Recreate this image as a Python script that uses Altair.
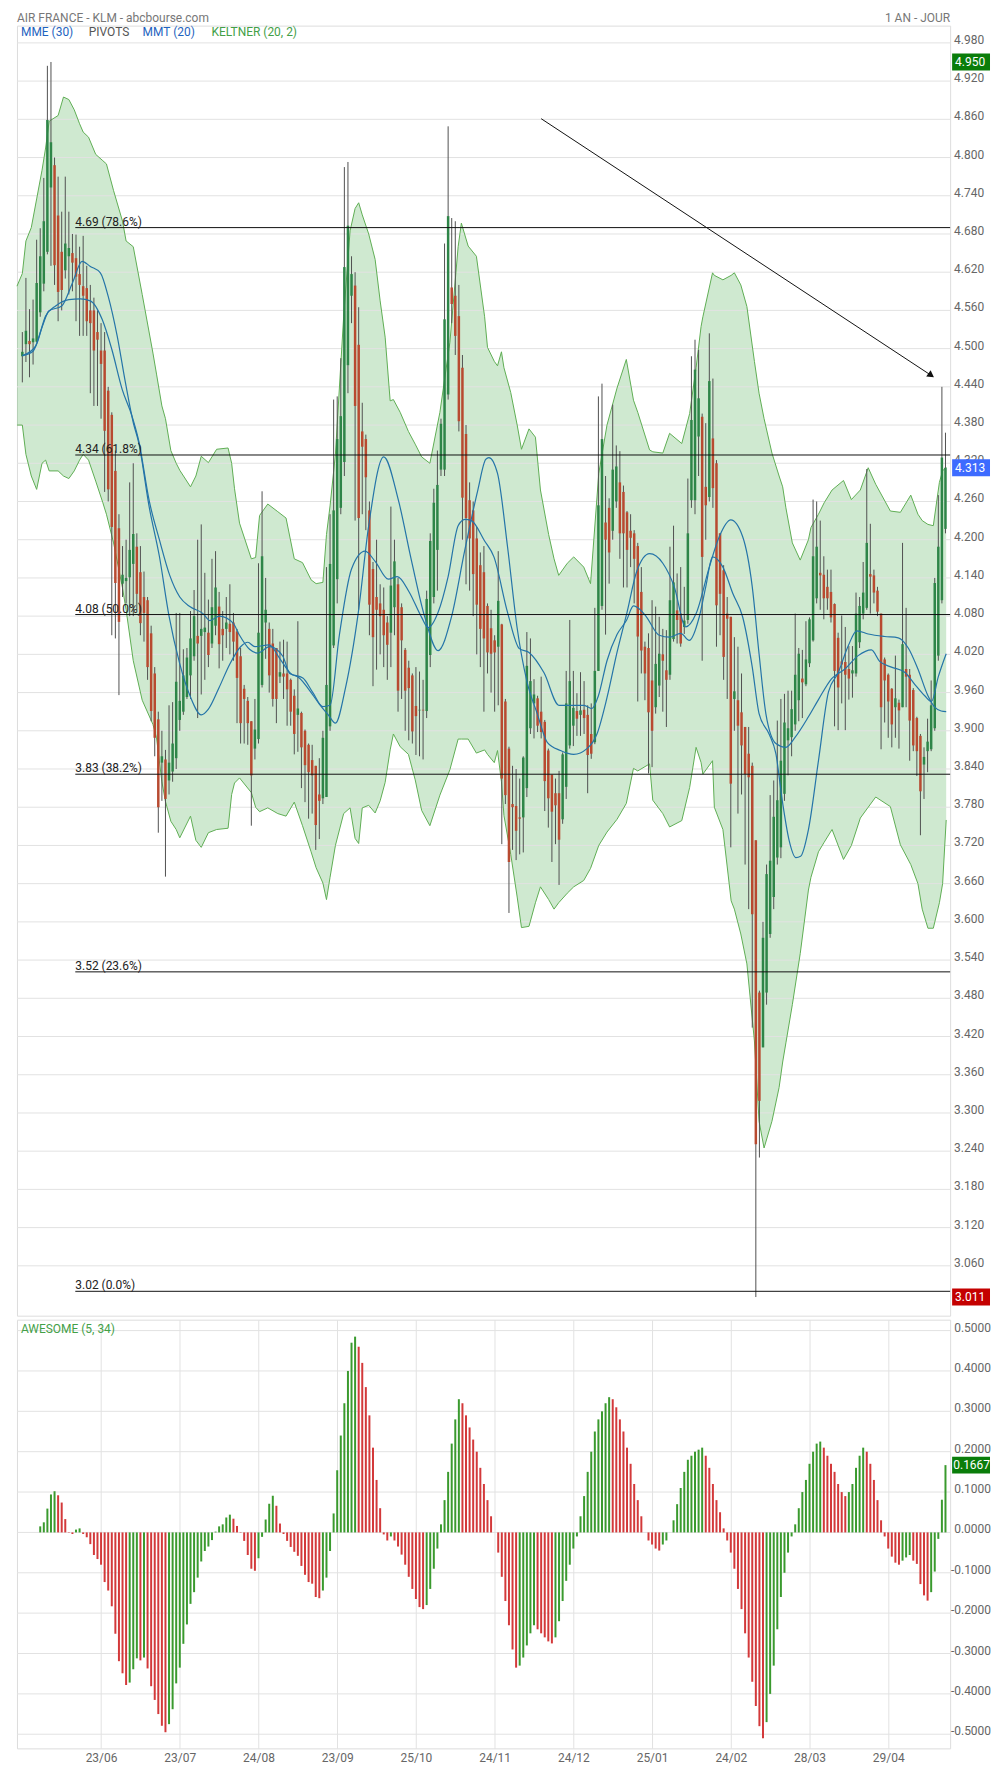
import altair as alt
import pandas as pd

# ---------------- data ----------------
OPEN = [4.488, 4.507, 4.512, 4.510, 4.511, 4.557, 4.602, 4.652, 4.753, 4.788,
        4.709, 4.652, 4.623, 4.645, 4.650, 4.642, 4.617, 4.598, 4.595, 4.560,
        4.560, 4.526, 4.497, 4.497, 4.434, 4.396, 4.308, 4.218, 4.131, 4.135,
        4.141, 4.162, 4.189, 4.149, 4.110, 4.105, 4.053, 3.990, 3.918, 3.850,
        3.855, 3.822, 3.836, 3.857, 3.917, 3.930, 3.953, 3.987, 4.017, 4.049,
        4.049, 4.055, 4.054, 4.037, 4.065, 4.095, 4.060, 4.060, 4.068, 4.070,
        4.056, 4.017, 3.966, 3.947, 3.915, 3.872, 3.887, 3.972, 4.070, 4.060,
        4.037, 4.030, 3.985, 3.990, 3.990, 3.980, 3.955, 3.925, 3.928, 3.900,
        3.878, 3.854, 3.845, 3.800, 3.794, 3.796, 3.907, 4.034, 4.138, 4.250,
        4.322, 4.474, 4.583, 4.599, 4.506, 4.370, 4.358, 4.246, 4.154, 4.110,
        4.100, 4.090, 4.070, 4.054, 4.094, 4.130, 4.094, 4.027, 3.999, 3.987,
        3.939, 3.932, 3.933, 3.931, 4.019, 4.110, 4.184, 4.310, 4.310, 4.428,
        4.596, 4.583, 4.551, 4.470, 4.366, 4.262, 4.246, 4.202, 4.160, 4.149,
        4.096, 4.061, 4.042, 4.032, 4.067, 3.946, 3.872, 3.785, 3.782, 3.764,
        3.764, 3.810, 3.904, 3.943, 3.951, 3.930, 3.914, 3.869, 3.831, 3.802,
        3.802, 3.761, 3.812, 3.877, 3.908, 3.931, 3.925, 3.933, 3.925, 3.895,
        3.882, 3.994, 4.096, 4.227, 4.250, 4.214, 4.260, 4.290, 4.275, 4.243,
        4.214, 4.210, 4.190, 4.118, 4.032, 4.030, 3.979, 3.937, 3.971, 4.020,
        3.995, 3.988, 4.044, 4.089, 4.084, 4.063, 4.074, 4.262, 4.262, 4.362,
        4.393, 4.283, 4.267, 4.359, 4.320, 4.210, 4.152, 4.084, 4.079, 3.950,
        3.948, 3.929, 3.906, 3.864, 3.845, 3.728, 3.489, 3.403, 3.489, 3.581,
        3.639, 3.701, 3.717, 3.801, 3.885, 3.890, 3.910, 3.948, 3.982, 3.973,
        4.006, 4.042, 4.108, 4.148, 4.145, 4.126, 4.118, 4.099, 4.046, 4.009,
        4.008, 3.997, 3.990, 3.990, 4.039, 4.084, 4.093, 4.146, 4.144, 4.120,
        4.084, 4.012, 3.988, 3.966, 3.937, 3.944, 3.937, 3.997, 3.988, 3.964,
        3.920, 3.892, 3.847, 3.868, 3.871, 3.904, 4.018, 4.105, 4.217]

CLOSE = [4.495, 4.528, 4.507, 4.516, 4.603, 4.645, 4.700, 4.859, 4.824, 4.631,
         4.589, 4.592, 4.665, 4.658, 4.635, 4.613, 4.600, 4.583, 4.543, 4.540,
         4.497, 4.514, 4.476, 4.371, 4.279, 4.220, 4.132, 4.071, 4.145, 4.140,
         4.184, 4.209, 4.115, 4.069, 4.085, 4.000, 3.931, 3.889, 3.780, 3.860,
         3.793, 3.850, 3.880, 3.977, 3.947, 3.987, 4.015, 4.045, 4.080, 4.037,
         4.060, 4.062, 4.019, 4.094, 4.125, 4.036, 4.050, 4.070, 4.055, 4.040,
         3.983, 3.912, 3.950, 3.912, 3.830, 3.902, 4.054, 4.174, 4.090, 3.987,
         3.950, 3.950, 3.992, 3.985, 3.965, 3.930, 3.895, 3.935, 3.874, 3.846,
         3.835, 3.830, 3.752, 3.790, 3.889, 3.972, 4.162, 4.246, 4.358, 4.394,
         4.628, 4.693, 4.617, 4.410, 4.234, 4.346, 4.298, 4.098, 4.047, 4.090,
         4.080, 4.050, 4.035, 4.128, 4.166, 3.963, 4.042, 3.963, 3.967, 3.899,
         3.923, 3.933, 3.932, 4.107, 4.198, 4.258, 4.286, 4.382, 4.546, 4.708,
         4.570, 4.520, 4.386, 4.266, 4.234, 4.202, 4.146, 4.098, 4.060, 4.045,
         4.023, 4.021, 4.023, 4.104, 3.825, 3.799, 3.694, 3.780, 3.743, 3.762,
         3.858, 4.002, 3.978, 3.957, 3.908, 3.898, 3.821, 3.794, 3.773, 3.783,
         3.729, 3.863, 3.943, 3.978, 3.936, 3.919, 3.932, 3.920, 3.862, 3.864,
         3.994, 4.254, 4.358, 4.200, 4.180, 4.310, 4.315, 4.210, 4.210, 4.184,
         4.203, 4.170, 4.048, 4.026, 3.990, 3.929, 3.900, 4.005, 4.021, 4.010,
         3.980, 4.105, 4.133, 4.074, 4.037, 4.073, 4.210, 4.388, 4.467, 4.422,
         4.173, 4.254, 4.449, 4.281, 4.097, 4.115, 4.016, 4.076, 3.817, 3.962,
         3.908, 3.877, 3.832, 3.827, 3.612, 3.251, 3.319, 3.575, 3.675, 3.696,
         3.765, 3.791, 3.853, 3.913, 3.904, 3.934, 3.988, 4.021, 3.976, 4.012,
         4.075, 4.174, 4.189, 4.144, 4.108, 4.108, 4.078, 3.994, 3.968, 4.004,
         3.988, 3.982, 3.995, 4.084, 4.096, 4.117, 4.195, 4.142, 4.117, 4.087,
         3.937, 3.979, 3.946, 3.910, 3.951, 3.932, 4.036, 3.985, 3.916, 3.877,
         3.868, 3.805, 3.859, 3.883, 3.940, 4.132, 4.189, 4.329, 4.313]

HIGH = [4.526, 4.611, 4.562, 4.577, 4.671, 4.689, 4.768, 4.944, 4.950, 4.800,
        4.770, 4.715, 4.770, 4.715, 4.680, 4.679, 4.660, 4.677, 4.630, 4.600,
        4.580, 4.560, 4.540, 4.526, 4.440, 4.400, 4.340, 4.240, 4.190, 4.200,
        4.290, 4.320, 4.210, 4.190, 4.150, 4.110, 4.065, 4.000, 3.930, 3.900,
        3.870, 3.940, 3.945, 4.085, 4.085, 4.028, 4.030, 4.088, 4.121, 4.200,
        4.224, 4.148, 4.106, 4.170, 4.182, 4.118, 4.088, 4.110, 4.130, 4.085,
        4.060, 4.030, 3.972, 3.953, 3.915, 3.950, 4.163, 4.276, 4.140, 4.070,
        4.060, 4.030, 4.040, 4.043, 4.040, 3.982, 3.965, 4.072, 3.930, 3.902,
        3.880, 3.878, 3.845, 3.857, 3.900, 4.157, 4.240, 4.420, 4.425, 4.485,
        4.785, 4.793, 4.645, 4.620, 4.565, 4.415, 4.365, 4.260, 4.165, 4.200,
        4.130, 4.125, 4.080, 4.252, 4.200, 4.140, 4.100, 4.030, 4.010, 3.990,
        4.000, 3.993, 3.980, 4.120, 4.210, 4.280, 4.340, 4.390, 4.665, 4.849,
        4.705, 4.700, 4.600, 4.490, 4.380, 4.290, 4.260, 4.220, 4.180, 4.190,
        4.100, 4.090, 4.050, 4.182, 4.068, 3.950, 3.875, 3.845, 3.840, 3.825,
        3.860, 4.055, 4.045, 3.981, 3.955, 3.985, 3.917, 3.872, 3.831, 3.825,
        3.837, 3.866, 3.994, 4.074, 3.994, 3.959, 3.992, 3.978, 3.940, 3.943,
        4.093, 4.425, 4.445, 4.300, 4.265, 4.412, 4.348, 4.339, 4.285, 4.245,
        4.240, 4.215, 4.195, 4.157, 4.040, 4.053, 4.105, 4.095, 4.079, 4.060,
        4.058, 4.189, 4.222, 4.147, 4.157, 4.126, 4.296, 4.488, 4.514, 4.498,
        4.398, 4.383, 4.524, 4.453, 4.325, 4.210, 4.160, 4.110, 4.079, 4.047,
        4.032, 3.990, 3.906, 3.906, 3.850, 3.728, 3.492, 3.600, 3.690, 3.799,
        3.822, 3.916, 3.950, 3.958, 3.963, 3.963, 4.084, 4.030, 4.027, 4.072,
        4.078, 4.263, 4.260, 4.230, 4.174, 4.153, 4.153, 4.100, 4.054, 4.081,
        4.063, 4.033, 4.033, 4.117, 4.110, 4.165, 4.311, 4.225, 4.153, 4.126,
        4.084, 4.015, 3.990, 3.967, 4.018, 3.949, 4.195, 4.093, 3.997, 3.967,
        3.922, 3.895, 3.874, 3.919, 3.979, 4.140, 4.270, 4.440, 4.368]

LOW = [4.447, 4.479, 4.455, 4.475, 4.510, 4.550, 4.590, 4.648, 4.630, 4.600,
       4.543, 4.560, 4.610, 4.585, 4.590, 4.543, 4.520, 4.520, 4.520, 4.430,
       4.410, 4.410, 4.390, 4.275, 4.260, 4.050, 4.045, 3.956, 4.110, 4.100,
       4.080, 4.080, 4.090, 4.050, 4.040, 3.980, 3.915, 3.860, 3.740, 3.790,
       3.671, 3.800, 3.820, 3.840, 3.900, 3.925, 3.950, 3.950, 4.010, 3.920,
       3.957, 3.980, 4.000, 4.030, 4.050, 3.998, 4.010, 4.030, 4.020, 4.010,
       3.912, 3.880, 3.880, 3.878, 3.751, 3.855, 3.880, 3.968, 4.013, 3.960,
       3.938, 3.912, 3.975, 3.950, 3.908, 3.908, 3.863, 3.867, 3.810, 3.788,
       3.762, 3.770, 3.713, 3.730, 3.785, 3.796, 3.900, 4.030, 4.100, 4.240,
       4.300, 4.430, 4.540, 4.230, 4.090, 4.240, 4.215, 4.050, 3.970, 3.996,
       4.020, 4.000, 3.980, 4.000, 4.050, 3.930, 3.950, 3.900, 3.885, 3.880,
       3.862, 3.860, 3.855, 3.920, 4.000, 4.100, 4.120, 4.300, 4.300, 4.420,
       4.540, 4.490, 4.370, 4.200, 4.130, 4.120, 4.080, 4.020, 4.000, 3.930,
       3.990, 3.960, 3.930, 3.940, 3.722, 3.785, 3.614, 3.713, 3.697, 3.706,
       3.709, 3.796, 3.895, 3.888, 3.898, 3.888, 3.774, 3.748, 3.694, 3.722,
       3.658, 3.754, 3.793, 3.872, 3.876, 3.892, 3.892, 3.895, 3.802, 3.856,
       3.879, 3.994, 4.090, 4.051, 4.131, 4.200, 4.250, 4.170, 4.125, 4.125,
       4.157, 4.100, 3.946, 3.990, 3.948, 3.833, 3.843, 3.927, 3.953, 3.930,
       3.906, 3.980, 4.040, 4.037, 4.032, 4.052, 4.068, 4.250, 4.240, 4.300,
       4.010, 4.200, 4.260, 4.250, 4.032, 4.050, 3.980, 3.950, 3.717, 3.900,
       3.770, 3.800, 3.690, 3.620, 3.434, 3.011, 3.230, 3.403, 3.470, 3.575,
       3.620, 3.690, 3.700, 3.790, 3.830, 3.860, 3.900, 3.915, 3.920, 3.970,
       4.000, 4.040, 4.100, 4.090, 4.075, 4.090, 4.070, 3.907, 3.901, 3.943,
       3.901, 3.949, 3.952, 3.985, 4.030, 4.075, 4.090, 4.084, 4.100, 4.080,
       3.871, 3.913, 3.889, 3.874, 3.889, 3.872, 3.937, 3.937, 3.853, 3.868,
       3.829, 3.736, 3.793, 3.835, 3.868, 3.900, 4.010, 4.100, 4.210]

# Keltner channel (bar position, upper, lower)
BAND_IDX = [-1.5, 0, 1, 2.5, 4, 5.5, 6.5, 7.5, 10, 11.5, 13, 14.5, 16, 17, 18.5,
            20.5, 22.5, 23.5, 25.5, 28, 29, 31, 33.5, 36.5, 37.5, 39, 40, 41.5,
            43, 44, 47, 48.5, 50, 52, 54.3, 57.5, 58.5, 59.3, 60.7, 64, 65.2,
            66.3, 68.6, 71.4, 73.7, 76, 78.3, 80.7, 82.1, 84, 85, 86, 87.5,
            89.8, 91.6, 93, 94, 95, 96.8, 98.6, 100, 101.4, 102.8, 103.7, 105.6,
            107.9, 109.8, 111.6, 113.9, 116.7, 119.5, 121.8, 122.7, 124.6,
            126.9, 129.2, 130, 131.9, 132.8, 133.9, 134.6, 136.5, 138.3, 139.5,
            141.6, 143.4, 144.8, 147.1, 148.6, 149.9, 152.3, 154.1, 156.9,
            158.8, 161.1, 163.4, 166.2, 168.8, 170.8, 172, 175.3, 176.2, 179,
            180.9, 184.3, 186.5, 188.3, 189.7, 190.2, 192.9, 193.4, 195.8,
            198.1, 199, 200.8, 202.5, 204.6, 205.9, 207.3, 209.5, 211.5, 212.5,
            213.4, 215.2, 217.4, 219.7, 220.4, 222.5, 224.1, 226.3, 229.5,
            231.7, 234.2, 236.4, 238.5, 242.6, 245.4, 248.3, 250.3, 251.5,
            253.1, 254.6, 256.3, 257.2, 258.2]
BAND_UP = [4.598, 4.618, 4.669, 4.690, 4.735, 4.780, 4.815, 4.857, 4.866, 4.895,
           4.891, 4.875, 4.853, 4.840, 4.832, 4.805, 4.795, 4.790, 4.748, 4.700,
           4.669, 4.660, 4.585, 4.493, 4.460, 4.410, 4.390, 4.340, 4.320, 4.309,
           4.283, 4.300, 4.331, 4.321, 4.342, 4.344, 4.320, 4.280, 4.226, 4.170,
           4.172, 4.238, 4.256, 4.244, 4.234, 4.170, 4.164, 4.137, 4.131, 4.133,
           4.208, 4.253, 4.334, 4.550, 4.685, 4.720, 4.729, 4.710, 4.680, 4.640,
           4.575, 4.518, 4.418, 4.420, 4.400, 4.370, 4.350, 4.330, 4.320, 4.400,
           4.510, 4.660, 4.697, 4.661, 4.645, 4.550, 4.502, 4.480, 4.473, 4.495,
           4.470, 4.431, 4.380, 4.342, 4.374, 4.361, 4.278, 4.208, 4.170, 4.144,
           4.163, 4.173, 4.157, 4.131, 4.304, 4.380, 4.438, 4.483, 4.419, 4.400,
           4.341, 4.338, 4.336, 4.367, 4.351, 4.398, 4.470, 4.535, 4.550, 4.619,
           4.615, 4.608, 4.615, 4.619, 4.600, 4.566, 4.480, 4.430, 4.390, 4.336,
           4.300, 4.283, 4.250, 4.195, 4.168, 4.200, 4.219, 4.240, 4.258, 4.278,
           4.293, 4.263, 4.278, 4.313, 4.287, 4.245, 4.243, 4.270, 4.240, 4.230,
           4.224, 4.222, 4.290, 4.308, 4.314]
BAND_LO = [4.380, 4.380, 4.334, 4.300, 4.279, 4.320, 4.325, 4.308, 4.308, 4.300,
           4.296, 4.308, 4.325, 4.334, 4.325, 4.292, 4.258, 4.240, 4.195, 4.124,
           4.090, 4.010, 3.948, 3.910, 3.889, 3.820, 3.789, 3.758, 3.745, 3.732,
           3.766, 3.728, 3.717, 3.740, 3.745, 3.747, 3.800, 3.818, 3.826, 3.803,
           3.780, 3.773, 3.779, 3.770, 3.766, 3.788, 3.751, 3.710, 3.685, 3.661,
           3.635, 3.670, 3.720, 3.770, 3.779, 3.731, 3.723, 3.779, 3.783, 3.771,
           3.790, 3.819, 3.870, 3.895, 3.875, 3.863, 3.823, 3.775, 3.751, 3.799,
           3.839, 3.887, 3.887, 3.887, 3.865, 3.870, 3.863, 3.850, 3.869, 3.820,
           3.767, 3.706, 3.639, 3.591, 3.593, 3.630, 3.655, 3.635, 3.620, 3.630,
           3.645, 3.655, 3.665, 3.684, 3.720, 3.741, 3.761, 3.786, 3.841, 3.837,
           3.848, 3.791, 3.770, 3.749, 3.759, 3.811, 3.874, 3.850, 3.832, 3.853,
           3.780, 3.745, 3.633, 3.620, 3.581, 3.534, 3.413, 3.287, 3.245, 3.287,
           3.340, 3.380, 3.410, 3.470, 3.550, 3.650, 3.670, 3.710, 3.725, 3.745,
           3.698, 3.720, 3.763, 3.780, 3.796, 3.781, 3.721, 3.690, 3.660, 3.620,
           3.590, 3.590, 3.630, 3.660, 3.760]

# moving averages (bar position, value)
MA1_IDX = [0, 3, 5.6, 7.4, 11, 14, 16.7, 19, 21.8, 24, 26.5, 28.8, 31, 32.5,
           35.5, 38.3, 41, 44, 47, 50, 52, 55, 58, 61, 63, 65, 69, 72, 75,
           77.4, 80.2, 83, 85.5, 87.5, 90.3, 93.9, 96.8, 101, 105.1, 108.8,
           112.5, 116.2, 119.9, 123.6, 127.3, 129.5, 130.4, 132.8, 135.6,
           138.3, 141, 143.9, 146.7, 150.4, 154.1, 157.8, 160.6, 163.4, 166.2,
           169, 171.7, 175.3, 179, 182.2, 185.4, 188.3, 192, 194.8, 198, 201.3,
           204, 205.9, 207.8, 210.6, 213.4, 216, 219.7, 222.5, 226.2, 229.9,
           233.6, 237.3, 239.6, 242.9, 246.6, 249.4, 252.2, 254.1, 256, 258.2]
MA1 = [4.489, 4.496, 4.535, 4.559, 4.567, 4.603, 4.637, 4.629, 4.619, 4.582,
       4.520, 4.447, 4.384, 4.353, 4.250, 4.174, 4.080, 4.005, 3.953, 3.925,
       3.934, 3.968, 4.005, 4.032, 4.039, 4.032, 4.035, 4.013, 3.990, 3.983,
       3.964, 3.942, 3.925, 3.912, 3.967, 4.086, 4.222, 4.330, 4.262, 4.166,
       4.078, 4.026, 4.078, 4.182, 4.278, 4.326, 4.329, 4.304, 4.189, 4.061,
       3.978, 3.927, 3.882, 3.869, 3.863, 3.872, 3.895, 3.952, 4.023, 4.086,
       4.150, 4.178, 4.163, 4.126, 4.063, 4.084, 4.157, 4.205, 4.231, 4.205,
       4.126, 4.021, 3.927, 3.880, 3.874, 3.890, 3.922, 3.949, 3.982, 3.997,
       4.018, 4.027, 4.009, 4.000, 3.992, 3.973, 3.955, 3.946, 3.985, 4.021]
MA2_IDX = [0, 3.7, 6.5, 9.3, 13, 16.2, 19, 22.3, 25, 27.9, 30.6, 32.5, 35.5,
           38.3, 41.2, 44, 46.8, 50.5, 52.4, 55.1, 58.9, 60.7, 63.5, 65.8,
           69.1, 72.8, 74.7, 78.4, 81.2, 84, 86, 88.6, 92, 95.8, 98.6, 102.3,
           104.8, 108.1, 111.6, 113.4, 116.2, 119, 121.8, 123.7, 125.5, 129.2,
           131.8, 135.6, 138.9, 141.6, 145.8, 150, 153.2, 157, 159.2, 161,
           163.4, 166.2, 168.9, 170.8, 172.7, 174.4, 178, 180.9, 184, 186.4,
           189.2, 191, 192.9, 195.8, 198.6, 201.3, 204, 205.9, 208.7, 210.6,
           212.4, 214.3, 216.2, 217.5, 219.7, 222.5, 225.3, 228, 230.8, 233.2,
           236.4, 241, 244.8, 247.6, 250.3, 253.1, 255, 256.8, 258.2]
MA2 = [4.489, 4.504, 4.551, 4.567, 4.577, 4.578, 4.575, 4.546, 4.499, 4.436,
       4.395, 4.356, 4.260, 4.200, 4.144, 4.110, 4.095, 4.084, 4.073, 4.080,
       4.069, 4.050, 4.028, 4.022, 4.032, 4.017, 3.990, 3.983, 3.960, 3.938,
       3.940, 4.050, 4.154, 4.182, 4.166, 4.138, 4.142, 4.118, 4.078, 4.062,
       4.086, 4.142, 4.222, 4.232, 4.230, 4.198, 4.173, 4.086, 4.029, 4.023,
       3.991, 3.940, 3.940, 3.940, 3.935, 3.955, 4.010, 4.051, 4.074, 4.096,
       4.090, 4.079, 4.050, 4.047, 4.053, 4.042, 4.079, 4.126, 4.173, 4.157,
       4.115, 4.079, 4.000, 3.927, 3.895, 3.864, 3.790, 3.728, 3.701, 3.703,
       3.745, 3.853, 3.961, 3.991, 4.033, 4.057, 4.052, 4.048, 4.046, 4.030,
       3.997, 3.955, 3.937, 3.931, 3.930]

# Awesome oscillator, first value on bar 5
AO_FIRST = 5
AO = [0.015, 0.025, 0.059, 0.094, 0.102, 0.092, 0.074, 0.033, -0.001, -0.004,
      0.007, 0.010, -0.004, -0.012, -0.029, -0.056, -0.066, -0.080, -0.123, -0.144,
      -0.183, -0.251, -0.319, -0.349, -0.378, -0.372, -0.339, -0.312, -0.317, -0.310,
      -0.337, -0.381, -0.415, -0.450, -0.479, -0.495, -0.475, -0.438, -0.374, -0.335,
      -0.276, -0.228, -0.177, -0.148, -0.112, -0.072, -0.046, -0.035, -0.019, 0.002,
      0.015, 0.020, 0.037, 0.044, 0.034, 0.016, -0.001, -0.021, -0.056, -0.090,
      -0.095, -0.064, -0.011, 0.032, 0.071, 0.091, 0.066, 0.022, -0.004, -0.021,
      -0.036, -0.048, -0.058, -0.083, -0.105, -0.123, -0.127, -0.160, -0.163, -0.144,
      -0.112, -0.046, 0.047, 0.154, 0.240,
      0.32, 0.40, 0.47, 0.485, 0.46, 0.42, 0.36, 0.29, 0.21, 0.13,
      0.06, -0.005, -0.02, -0.01, -0.02, -0.035, -0.055, -0.08, -0.11, -0.14,
      -0.165, -0.185, -0.19, -0.18, -0.14, -0.09, -0.04, 0.02, 0.08, 0.15,
      0.22, 0.28, 0.33, 0.32, 0.29, 0.26, 0.23, 0.20, 0.16, 0.12,
      0.08, 0.04, 0.0, -0.05, -0.11, -0.17, -0.23, -0.29, -0.335, -0.33,
      -0.31, -0.28, -0.25, -0.23, -0.24, -0.25, -0.26, -0.27, -0.275, -0.26,
      -0.22, -0.17, -0.12, -0.08, -0.04, -0.01, 0.04, 0.09, 0.15, 0.20,
      0.25, 0.28, 0.30, 0.32, 0.335, 0.33, 0.31, 0.28, 0.25, 0.21,
      0.17, 0.12, 0.08, 0.04, 0.0, -0.02, -0.03, -0.04, -0.045, -0.03,
      -0.02, 0.0, 0.03, 0.07, 0.11, 0.15, 0.18, 0.19, 0.20, 0.205,
      0.21, 0.19, 0.16, 0.12, 0.08, 0.05, 0.01, -0.02, -0.05, -0.09,
      -0.14, -0.19, -0.25, -0.31, -0.37, -0.43, -0.48, -0.51, -0.47, -0.40,
      -0.33, -0.24, -0.16, -0.10, -0.05, -0.01, 0.02, 0.06, 0.10, 0.13,
      0.17, 0.20, 0.22, 0.225, 0.21, 0.19, 0.17, 0.15, 0.12, 0.10,
      0.09, 0.10, 0.12, 0.16, 0.19, 0.21, 0.20, 0.17, 0.13, 0.08,
      0.03, -0.01, -0.04, -0.06, -0.075, -0.08, -0.07, -0.062, -0.056, -0.07,
      -0.078, -0.128, -0.156, -0.169, -0.148, -0.097, -0.016, 0.081, 0.1667]

FIB_VALUES = [4.69, 4.333, 4.0825, 3.8318, 3.5215, 3.02]
FIB_LABELS = ["4.69  (78.6%)", "4.34  (61.8%)", "4.08  (50.0%)",
              "3.83  (38.2%)", "3.52  (23.6%)", "3.02  (0.0%)"]
FIB_FROM = 14.8

ARROW_IDX = [145, 254]
ARROW_PRICE = [4.861, 4.458]

DATE_IDX = [22, 44, 66, 88, 110, 132, 154, 176, 198, 220, 242]
DATE_LABELS = ["23/06", "23/07", "24/08", "23/09", "25/10", "24/11",
               "24/12", "25/01", "24/02", "28/03", "29/04"]

PRICE_TICKS = [3.06, 3.12, 3.18, 3.24, 3.30, 3.36, 3.42, 3.48, 3.54, 3.60,
               3.66, 3.72, 3.78, 3.84, 3.90, 3.96, 4.02, 4.08, 4.14, 4.20,
               4.26, 4.32, 4.38, 4.44, 4.50, 4.56, 4.62, 4.68, 4.74, 4.80,
               4.86, 4.92, 4.98]
PRICE_TICK_LABELS = ["3.060", "3.120", "3.180", "3.240", "3.300", "3.360", "3.420",
                     "3.480", "3.540", "3.600", "3.660", "3.720", "3.780", "3.840",
                     "3.900", "3.960", "4.020", "4.080", "4.140", "4.200", "4.260",
                     "4.320", "4.380", "4.440", "4.500", "4.560", "4.620", "4.680",
                     "4.740", "4.800", "4.860", "4.920", "4.980"]
AO_TICKS = [-0.5, -0.4, -0.3, -0.2, -0.1, 0.0, 0.1, 0.2, 0.3, 0.4, 0.5]
AO_TICK_LABELS = ["-0.5000", "-0.4000", "-0.3000", "-0.2000", "-0.1000", "0.0000",
                  "0.1000", "0.2000", "0.3000", "0.4000", "0.5000"]

PRICE_TAGS = [4.950, 4.313, 3.011]
PRICE_TAG_TEXT = ["4.950", "4.313", "3.011"]
PRICE_TAG_COLORS = ["#0a7d0a", "#3d6bff", "#c40000"]
AO_TAG = [0.1667]
AO_TAG_TEXT = ["0.1667"]

# ---------------- styling ----------------
W = 936
H_TOP = 1294
H_BOT = 430
FONT = "Roboto"
GREEN_BODY = "#2e8548"
RED_BODY = "#b84a30"
MA_COLOR = "#2474a8"
GRID = "#e2e2e2"
LABEL = "#666666"
LABEL_X = 940        # left edge of the price labels
RIGHT_EDGE = 977     # right edge of the oscillator labels / tags
TAG_X = 957          # centre of the value tags (38 px wide, 17 px high)
TAG_SHAPE = "M-1,-0.447H1V0.447H-1Z"
TAG_SIZE = 38 * 38

x_scale = alt.Scale(domain=[-1.5, 259.3], nice=False, zero=False, padding=0)
y_scale = alt.Scale(domain=[2.9817, 5.0071], nice=False, zero=False, padding=0)
ao_scale = alt.Scale(domain=[-0.535, 0.527], nice=False, zero=False, padding=0)

n = len(CLOSE)
candles = pd.DataFrame({"i": list(range(n)), "o": OPEN, "h": HIGH, "l": LOW, "c": CLOSE})
candles["col"] = [GREEN_BODY if c >= o else RED_BODY for o, c in zip(OPEN, CLOSE)]

band = pd.DataFrame({"i": BAND_IDX, "up": BAND_UP, "lo": BAND_LO})
ma1 = pd.DataFrame({"i": MA1_IDX, "v": MA1})
ma2 = pd.DataFrame({"i": MA2_IDX, "v": MA2})
fib = pd.DataFrame({"v": FIB_VALUES, "t": FIB_LABELS})
arrow = pd.DataFrame({"i": ARROW_IDX, "v": ARROW_PRICE})
tags = pd.DataFrame({"v": PRICE_TAGS, "t": PRICE_TAG_TEXT, "c": PRICE_TAG_COLORS})
pticks = pd.DataFrame({"v": PRICE_TICKS, "t": PRICE_TICK_LABELS})
aticks = pd.DataFrame({"v": AO_TICKS, "t": AO_TICK_LABELS})

ao_idx = list(range(AO_FIRST, AO_FIRST + len(AO)))
ao_col = []
for k, v in enumerate(AO):
    if k == 0 or v >= AO[k - 1]:
        ao_col.append("#3a9a2e")
    else:
        ao_col.append("#d3393a")
ao = pd.DataFrame({"i": ao_idx, "v": AO, "col": ao_col})
ao_tag = pd.DataFrame({"v": AO_TAG, "t": AO_TAG_TEXT})

x_top_axis = alt.Axis(values=DATE_IDX, grid=True, gridColor=GRID, labels=False,
                      ticks=False, domain=False, title=None)
date_expr = " : ".join(f"datum.value == {i} ? '{l}'" for i, l in zip(DATE_IDX, DATE_LABELS)) + " : ''"
x_bot_axis = alt.Axis(values=DATE_IDX, labelExpr=date_expr, grid=True, gridColor=GRID,
                      ticks=False, tickSize=0, domain=False, labelPadding=4,
                      labelColor=LABEL, labelFont=FONT, labelFontSize=12,
                      labelFlush=False, labelOverlap=False, title=None)

one = pd.DataFrame({"a": [0]})


def label(text, x, y, color, align="left", size=12):
    return alt.Chart(one).mark_text(text=text, align=align, baseline="middle",
                                    font=FONT, fontSize=size, color=color).encode(
        x=alt.value(x), y=alt.value(y))


def X(field="i", axis=None):
    return alt.X(f"{field}:Q", scale=x_scale, axis=axis, title=None)


def Y(field, scale):
    return alt.Y(f"{field}:Q", scale=scale, axis=None, title=None)


# ---------------- top panel ----------------
grid_top = alt.Chart(pticks).mark_rule(color=GRID, strokeWidth=1).encode(
    x=alt.value(0), x2=alt.value(W), y=Y("v", y_scale))
grid_top_lbl = alt.Chart(pticks).mark_text(align="left", baseline="middle", dy=-3,
                                           font=FONT, fontSize=12, color=LABEL).encode(
    x=alt.value(LABEL_X), y=Y("v", y_scale), text="t:N")

band_area = alt.Chart(band).mark_area(color="#4caf50", opacity=0.27).encode(
    x=X("i", x_top_axis), y=Y("up", y_scale), y2="lo:Q")
band_up = alt.Chart(band).mark_line(color="#5fae54", strokeWidth=1).encode(
    x=X(), y=Y("up", y_scale))
band_lo = alt.Chart(band).mark_line(color="#5fae54", strokeWidth=1).encode(
    x=X(), y=Y("lo", y_scale))

wicks = alt.Chart(candles).mark_rule(color="#505050", strokeWidth=1).encode(
    x=X(), y=Y("l", y_scale), y2="h:Q")
bodies = alt.Chart(candles).mark_bar(size=2.5).encode(
    x=X(), y=Y("o", y_scale), y2="c:Q", color=alt.Color("col:N", scale=None))

line1 = alt.Chart(ma1).mark_line(color=MA_COLOR, strokeWidth=1.2, interpolate="monotone").encode(
    x=X(), y=Y("v", y_scale))
line2 = alt.Chart(ma2).mark_line(color=MA_COLOR, strokeWidth=1.2, interpolate="monotone").encode(
    x=X(), y=Y("v", y_scale))

fib_rules = alt.Chart(fib).mark_rule(color="#111111", strokeWidth=1).encode(
    x=alt.datum(FIB_FROM), x2=alt.value(W), y=Y("v", y_scale))
fib_text = alt.Chart(fib).mark_text(align="left", baseline="alphabetic", dy=-2,
                                    font=FONT, fontSize=12, color="#222222").encode(
    x=alt.datum(FIB_FROM), y=Y("v", y_scale), text="t:N")

arrow_line = alt.Chart(arrow).mark_line(color="#111111", strokeWidth=1).encode(
    x=X(), y=Y("v", y_scale))
arrow_head = alt.Chart(arrow.iloc[[-1]]).mark_point(
    shape="triangle-right", filled=True, size=60, angle=35, color="#111111", opacity=1).encode(
    x=X(), y=Y("v", y_scale))

tag_box = alt.Chart(tags).mark_point(shape=TAG_SHAPE, size=TAG_SIZE, filled=True,
                                     opacity=1, strokeWidth=0).encode(
    x=alt.value(TAG_X), y=Y("v", y_scale), color=alt.Color("c:N", scale=None))
tag_text = alt.Chart(tags).mark_text(align="left", baseline="middle", font=FONT,
                                     fontSize=12, color="white").encode(
    x=alt.value(LABEL_X + 1), y=Y("v", y_scale), text="t:N")

top = alt.layer(
    band_area, grid_top, grid_top_lbl, band_up, band_lo, wicks, bodies, line1, line2,
    fib_rules, fib_text, arrow_line, arrow_head, tag_box, tag_text,
    label("AIR FRANCE - KLM - abcbourse.com", 0, -8, "#777777"),
    label("1 AN - JOUR", W, -8, "#777777", align="right"),
    label("MME (30)", 4, 6, "#1e63c0"),
    label("PIVOTS", 72, 6, "#555555"),
    label("MMT (20)", 126, 6, "#1e63c0"),
    label("KELTNER (20, 2)", 195, 6, "#43a047"),
).properties(width=W, height=H_TOP)

# ---------------- bottom panel ----------------
grid_bot = alt.Chart(aticks).mark_rule(color=GRID, strokeWidth=1).encode(
    x=alt.value(0), x2=alt.value(W), y=Y("v", ao_scale))
grid_bot_lbl = alt.Chart(aticks).mark_text(align="right", baseline="middle", dy=-3,
                                           font=FONT, fontSize=12, color=LABEL).encode(
    x=alt.value(RIGHT_EDGE), y=Y("v", ao_scale), text="t:N")
ao_bars = alt.Chart(ao).mark_bar(size=2).encode(
    x=X("i", x_bot_axis), y=Y("v", ao_scale), y2=alt.datum(0),
    color=alt.Color("col:N", scale=None))
ao_box = alt.Chart(ao_tag).mark_point(shape=TAG_SHAPE, size=TAG_SIZE, filled=True,
                                      color="#0a7d0a", opacity=1, strokeWidth=0).encode(
    x=alt.value(TAG_X), y=Y("v", ao_scale))
ao_text = alt.Chart(ao_tag).mark_text(align="right", baseline="middle", font=FONT,
                                      fontSize=12, color="white").encode(
    x=alt.value(RIGHT_EDGE - 1), y=Y("v", ao_scale), text="t:N")

bottom = alt.layer(
    grid_bot, ao_bars, grid_bot_lbl, ao_box, ao_text,
    label("AWESOME (5, 34)", 4, 9, "#43a047"),
).properties(width=W, height=H_BOT)

chart = alt.vconcat(top, bottom, spacing=4, bounds="flush").properties(
    padding={"left": 6, "top": 0, "right": 0, "bottom": 0}
).configure_view(stroke="#dddddd", strokeWidth=1).configure(font=FONT)

chart.save("out.html", embed_options={"renderer": "svg", "actions": False})
